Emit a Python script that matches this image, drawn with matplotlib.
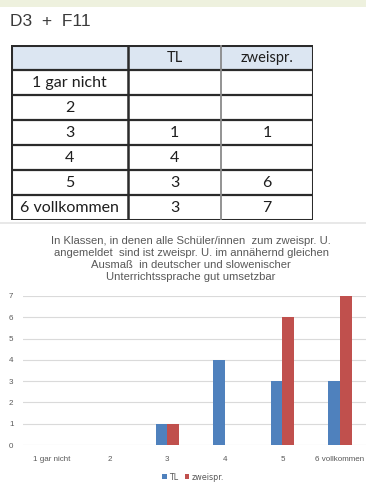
import matplotlib
matplotlib.use("Agg")
import matplotlib.pyplot as plt
from matplotlib.patches import Rectangle, Patch
from matplotlib.lines import Line2D
import numpy as np

# ---- data ----
heading = "D3  +  F11"
table_cols = ["", "TL", "zweispr."]
table_rows = ["1 gar nicht", "2", "3", "4", "5", "6 vollkommen"]
table_tl = [None, None, 1, 4, 3, 3]
table_zw = [None, None, 1, None, 6, 7]

categories = ["1 gar nicht", "2", "3", "4", "5", "6 vollkommen"]
tl_values = [0, 0, 1, 4, 3, 3]
zw_values = [0, 0, 1, 0, 6, 7]
series_names = ["TL", "zweispr."]
chart_title = ("In Klassen, in denen alle Schüler/innen  zum zweispr. U.\n"
               "angemeldet  sind ist zweispr. U. im annähernd gleichen\n"
               "Ausmaß  in deutscher und slowenischer\n"
               "Unterrichtssprache gut umsetzbar")
y_ticks = [0, 1, 2, 3, 4, 5, 6, 7]

W, H = 366, 482
fig = plt.figure(figsize=(W / 100, H / 100), dpi=100)
fig.patch.set_facecolor("white")

def fx(px):
    return px / W

def fy(py):
    return 1 - py / H

# top greenish strip
fig.add_artist(Rectangle((0, fy(7)), 1, 7 / H, transform=fig.transFigure,
                         facecolor="#eef1de", edgecolor="none"))
# faint separator
fig.add_artist(Line2D([0, 1], [fy(223), fy(223)], transform=fig.transFigure,
                      color="#e4e4e4", lw=1.2))

fig.text(fx(10), fy(22), heading, fontsize=12.5, family="Liberation Sans",
         color="#3a3a3a", va="center", ha="left")

# ---- table ----
tab_ax = fig.add_axes([fx(11), fy(220), fx(313) - fx(11), (220 - 45) / H])
tab_ax.set_axis_off()
cell_text = []
for r, a, b in zip(table_rows, table_tl, table_zw):
    cell_text.append([r, "" if a is None else str(a), "" if b is None else str(b)])
all_rows = [table_cols] + cell_text
widths = [117, 93, 92]
tw = sum(widths)
row_h = [25] + [25] * len(cell_text)
tab_ax.set_xlim(0, tw)
tab_ax.set_ylim(sum(row_h), 0)
y0 = 0
for i, row in enumerate(all_rows):
    x0 = 0
    for j, txt in enumerate(row):
        fc = "#dce6f2" if i == 0 else "white"
        tab_ax.add_patch(Rectangle((x0, y0), widths[j], row_h[i], facecolor=fc,
                                   edgecolor="none"))
        tab_ax.text(x0 + widths[j] / 2, y0 + row_h[i] / 2 + 0.5, txt,
                    ha="center", va="center", fontsize=11.5 if i > 0 else 10.5,
                    family="Lato", color="#1e1e1e")
        x0 += widths[j]
    y0 += row_h[i]
# horizontal lines
yy = 0
for h in row_h[:-1]:
    yy += h
    tab_ax.plot([0, tw], [yy, yy], color="#2b2b2b", lw=1.6, solid_capstyle="butt")
# vertical lines
tab_ax.plot([widths[0], widths[0]], [0, sum(row_h)], color="#2b2b2b", lw=1.8)
tab_ax.plot([widths[0] + widths[1]] * 2, [0, sum(row_h)], color="#8a8a8a", lw=1.3)
tab_ax.add_patch(Rectangle((0, 0), tw, sum(row_h), facecolor="none",
                           edgecolor="#2b2b2b", lw=2.2))

# ---- chart ----
left = fx(23.2)
right = fx(368.8)
ax = fig.add_axes([left, fy(445), right - left, (445 - 296) / H])
x = np.arange(len(categories))
bw = 0.2
ax.bar(x - bw / 2, tl_values, bw, color="#4f81bd", label=series_names[0], zorder=3)
ax.bar(x + bw / 2, zw_values, bw, color="#c0504d", label=series_names[1], zorder=3)
ax.set_xlim(-0.5, len(categories) - 0.5)
ax.set_ylim(0, 7)
ax.set_yticks(y_ticks)
ax.set_yticklabels([str(v) for v in y_ticks])
ax.set_xticks(x)
ax.set_xticklabels(categories)
ax.grid(axis="y", color="#dadada", lw=0.8, zorder=0)
for s in ax.spines.values():
    s.set_visible(False)
ax.tick_params(axis="both", length=0, labelsize=5.8, colors="#595959")
ax.tick_params(axis="x", pad=8)
ax.tick_params(axis="y", pad=7)
for lab in ax.get_xticklabels() + ax.get_yticklabels():
    lab.set_family("Liberation Sans")

fig.text(fx(191), fy(259), chart_title, ha="center", va="center",
         fontsize=8.1, color="#595959", family="Liberation Sans", linespacing=1.22)

handles = [Patch(facecolor="#4f81bd"), Patch(facecolor="#c0504d")]
fig.legend(handles, series_names, loc="center", bbox_to_anchor=(fx(193), fy(477)),
           ncol=2, frameon=False, fontsize=5.8, handlelength=0.6, handleheight=0.6,
           handletextpad=0.3, columnspacing=0.8, labelcolor="#595959")

fig.savefig("out.png", dpi=100)
